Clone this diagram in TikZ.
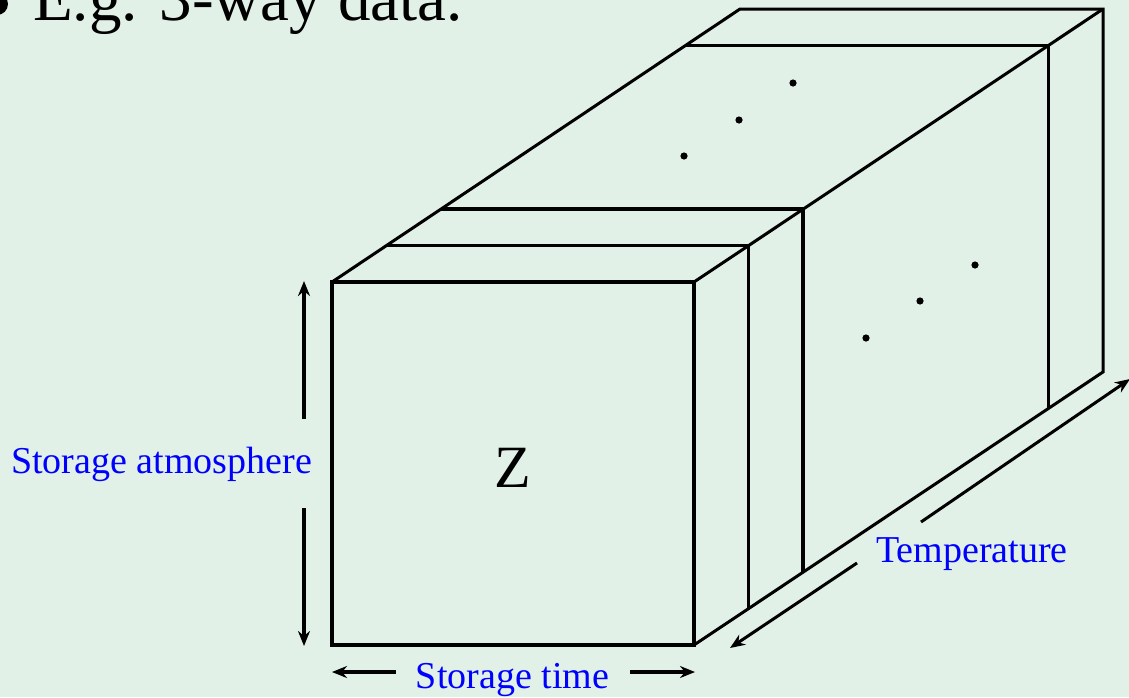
\documentclass[tikz,border=0pt]{standalone}
\usepackage{fontspec}
\setmainfont{Liberation Serif}
\usetikzlibrary{arrows.meta}
\definecolor{bg}{RGB}{226,241,231}
\definecolor{lbl}{RGB}{0,0,255}
\begin{document}
\begin{tikzpicture}[x=1pt,y=-1pt,
  frontline/.style={line width=3.6pt,line join=miter},
  edgeline/.style={line width=3pt,line join=miter},
  axisarrow/.style={line width=3.2pt,-{Stealth[length=15pt,width=12pt]}},
  lbltext/.style={text=lbl,inner sep=0pt,anchor=base,font=\fontsize{38}{40}\selectfont},
  dotmark/.style={fill=black,draw=none}]
\fill[bg] (0,0) rectangle (1129,697);
\useasboundingbox (0,0) rectangle (1129,697);
% title
\fill[black] (-3,4) circle (11);
\node[inner sep=0pt,anchor=base west,font=\fontsize{65}{70}\selectfont] (title) at (33,20) {E.g. 3-way data.};
% coordinates
\coordinate (fTL) at (332,282);
\coordinate (fTR) at (694,282);
\coordinate (fBR) at (694,645);
\coordinate (bTL) at (740,9);
\coordinate (bTR) at (1103,9);
\coordinate (bBR) at (1103,372);
% box outline
\draw[edgeline] (fTL) -- (bTL) -- (bTR) -- (bBR) -- (fBR);
\draw[edgeline] (fTR) -- (bTR);
% slices
\draw[edgeline] (386,245) -- (748,245) -- (748,609);
\draw[edgeline,line width=3.2pt] (441,209) -- (803,209) -- (803,572);
\draw[edgeline] (686,45) -- (1048,45) -- (1048,409);
% front face
\draw[frontline] (fTL) rectangle (fBR);
% dots
\foreach \p in {(684,156),(739,120),(793,83),(866,338),(920,301),(975,265)}
  \fill[dotmark] \p circle (3.6);
% Z
\node[inner sep=0pt,anchor=base,font=\fontsize{60}{60}\selectfont] (zlabel) at (513,487) {Z};
% storage atmosphere
\coordinate (aTop) at (304,281);
\coordinate (aBot) at (304,646);
\coordinate (aGapT) at (304,419);
\coordinate (aGapB) at (304,508);
\draw[axisarrow] (aGapT) -- (aTop);
\draw[axisarrow] (aGapB) -- (aBot);
\node[lbltext] (atm) at (161.5,473) {Storage atmosphere};
% storage time
\coordinate (tL) at (332,672);
\coordinate (tLi) at (396,672);
\coordinate (tR) at (695,672);
\coordinate (tRi) at (630,672);
\draw[axisarrow] (tLi) -- (tL);
\draw[axisarrow] (tRi) -- (tR);
\node[lbltext] (stime) at (512.5,688) {Storage time};
% temperature
\coordinate (pL) at (730,648);
\coordinate (pLi) at (857,563);
\coordinate (pR) at (1130,379);
\coordinate (pRi) at (921,522);
\draw[axisarrow,line width=3pt] (pLi) -- (pL);
\draw[axisarrow,line width=3pt] (pRi) -- (pR);
\node[lbltext] (temp) at (972,562) {Temperature};
\end{tikzpicture}
\end{document}
